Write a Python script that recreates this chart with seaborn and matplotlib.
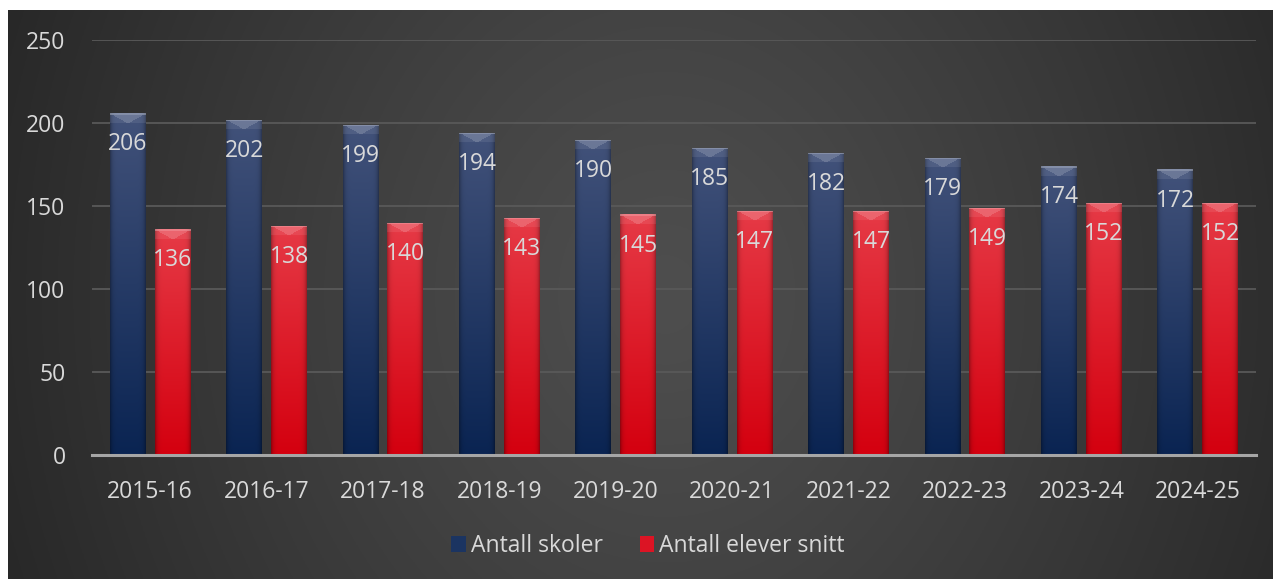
import numpy as np
import pandas as pd
import matplotlib
matplotlib.use("Agg")
import matplotlib.pyplot as plt
import seaborn as sns
from matplotlib.colors import to_rgb

years = ["2015-16", "2016-17", "2017-18", "2018-19", "2019-20",
         "2020-21", "2021-22", "2022-23", "2023-24", "2024-25"]
skoler = [206, 202, 199, 194, 190, 185, 182, 179, 174, 172]
elever = [136, 138, 140, 143, 145, 147, 147, 149, 152, 152]
series_names = ["Antall skoler", "Antall elever snitt"]
y_ticks = [0, 50, 100, 150, 200, 250]

df = pd.DataFrame({
    "year": years * 2,
    "value": skoler + elever,
    "series": [series_names[0]] * len(years) + [series_names[1]] * len(years),
})

sns.set_theme(style="white")
plt.rcParams["font.family"] = ["Open Sans", "DejaVu Sans"]

W, H = 1273, 579
fig = plt.figure(figsize=(W / 100, H / 100), dpi=100)
fig.patch.set_facecolor("white")

# background panel with radial gradient
bg = fig.add_axes([8 / W, 0, 1 - 8 / W, 1 - 10 / H], zorder=0)
bg.set_axis_off()
gy, gx = np.mgrid[0:1:300j, 0:1:600j]
r = np.sqrt(((gx - 0.52) / 0.58) ** 2 + ((gy - 0.5) / 1.5) ** 2)
r = np.clip(r, 0, 1) ** 1.2
inner = np.array(to_rgb("#4e4e4e"))
outer = np.array(to_rgb("#262626"))
img = inner[None, None, :] * (1 - r[..., None]) + outer[None, None, :] * r[..., None]
bg.imshow(img, aspect="auto", extent=[0, 1, 0, 1], origin="lower")
bg.set_xlim(0, 1)
bg.set_ylim(0, 1)

ax_h_px = 455 - 40
ax = fig.add_axes([92 / W, 1 - 455 / H, (1256 - 92) / W, ax_h_px / H], zorder=1)
ax.patch.set_alpha(0)

palette = {series_names[0]: "#1b3461", series_names[1]: "#dc1424"}
sns.barplot(data=df, x="year", y="value", hue="series", palette=palette,
            width=0.77, gap=0.2, ax=ax, legend=True, saturation=1,
            edgecolor="none", zorder=3)

ax.set_ylim(0, 250)
ax.set_yticks(y_ticks)
ax.set_xlim(-0.5, len(years) - 0.5)
ax.grid(axis="y", color="#595959", linewidth=1.3, zorder=0)
ax.set_axisbelow(True)
for s in ["top", "right", "left"]:
    ax.spines[s].set_visible(False)
ax.spines["bottom"].set_color("#a6a6a6")
ax.spines["bottom"].set_linewidth(2.2)
ax.spines["bottom"].set_zorder(5)
ax.set_xlabel("")
ax.set_ylabel("")
ax.tick_params(axis="both", length=0, colors="#d9d9d9", labelsize=16.5)
ax.tick_params(axis="y", pad=19)
ax.tick_params(axis="x", pad=18)

# gradient fills with a bevelled top, clipped to bars
grad_spec = {
    series_names[0]: ("#42527a", "#0a2452"),
    series_names[1]: ("#e63a46", "#d4000f"),
}
ax_w_px = 1256 - 92
bars = [p for p in ax.patches if p.get_height() > 0]
n = len(years)
for i, p in enumerate(bars):
    name = series_names[0] if i < n else series_names[1]
    top, bot = (np.array(to_rgb(c)) for c in grad_spec[name])
    x0, y0 = p.get_x(), p.get_y()
    w, h = p.get_width(), p.get_height()
    rows = max(int(round(h / 250 * ax_h_px)), 12)
    cols = max(int(round(w / len(years) * ax_w_px)), 10)
    t = np.linspace(0, 1, rows)[:, None]
    col = top[None, :] * (1 - t) + bot[None, :] * t
    g = np.repeat(col[:, None, :], cols, axis=1)
    xs = np.linspace(-1, 1, cols)
    edge = 1 - 0.3 * np.abs(xs) ** 8
    g = g * edge[None, :, None]
    bev = 10
    cx = (cols - 1) / 2
    for rr in range(bev):
        half = (bev - rr) / bev * (cols / 2)
        for cc in range(cols):
            inside_tri = abs(cc - cx) < half
            if rr < 2:
                f = 0.35
            elif inside_tri:
                f = 0.22
            else:
                f = 0.08
            g[rr, cc] = np.clip(g[rr, cc] + (1 - g[rr, cc]) * f, 0, 1)
    im = ax.imshow(g, extent=[x0, x0 + w, y0, y0 + h], aspect="auto",
                   origin="upper", zorder=3.5, interpolation="bilinear")
    im.set_clip_path(p)

ax.set_xlim(-0.5, len(years) - 0.5)
ax.set_ylim(0, 250)

for c in ax.containers:
    for p, v in zip(c.patches, c.datavalues):
        ax.annotate(f"{int(v)}", (p.get_x() + p.get_width() / 2, p.get_height()),
                    xytext=(0, -22.5), textcoords="offset points",
                    ha="center", va="center", color="#d9d9d9", fontsize=16.5,
                    zorder=6)

handles, labels = ax.get_legend_handles_labels()
ax.legend_.remove()
leg = fig.legend(handles, labels, loc="center", bbox_to_anchor=(648 / W, 1 - 546 / H),
                 ncol=2, frameon=False, fontsize=16.5, handlelength=0.65,
                 handleheight=0.65, handletextpad=0.2, columnspacing=1.6)
for t in leg.get_texts():
    t.set_color("#d9d9d9")

fig.savefig("out.png", dpi=100, facecolor=fig.get_facecolor())
